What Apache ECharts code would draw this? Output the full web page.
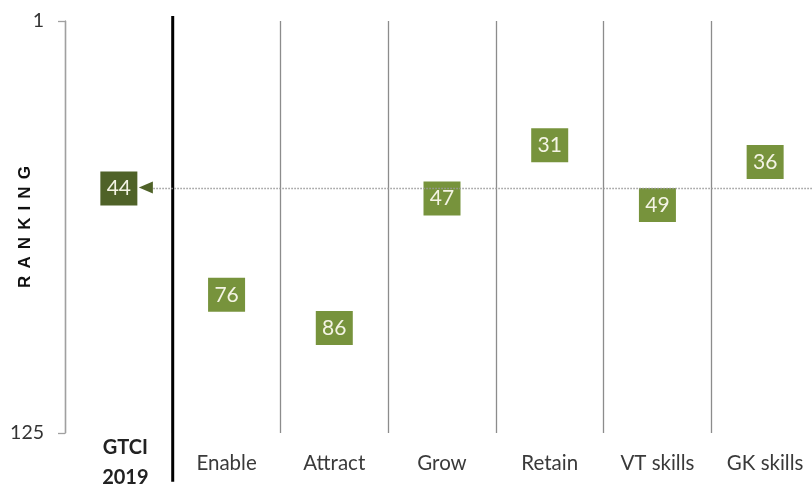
<!DOCTYPE html>
<html>
<head>
<meta charset="utf-8">
<script src="https://cdn.jsdelivr.net/npm/echarts@6/dist/echarts.min.js"></script>
<style>
html,body{margin:0;padding:0;background:#fff;}
#chart{width:812px;height:487px;}
</style>
</head>
<body>
<div id="chart"></div>
<script>
const categories = ['GTCI 2019', 'Enable', 'Attract', 'Grow', 'Retain', 'VT skills', 'GK skills'];
const rankings = [44, 76, 86, 47, 31, 49, 36];
const gtciRank = 44;
const yTickLabels = [1, 125];
const yAxisTitle = 'RANKING';

const FONT = 'Lato';
const chart = echarts.init(document.getElementById('chart'), null, {renderer: 'canvas'});

const boxData = rankings.map((v, i) => ({
  value: v,
  itemStyle: {color: i === 0 ? '#4F6228' : '#77933C', opacity: 1}
}));

const option = {
  backgroundColor: '#ffffff',
  animation: false,
  grid: {left: 65, right: -7, top: 21, bottom: 54, containLabel: false, outerBoundsMode: 'none'},
  xAxis: [{
    type: 'category',
    data: categories,
    boundaryGap: true,
    axisLine: {show: false},
    axisTick: {show: false},
    splitLine: {show: true, lineStyle: {color: '#8c8c8c', width: 1.3}},
    axisLabel: {
      margin: 30,
      verticalAlign: 'middle',
      fontFamily: FONT,
      fontSize: 20.5,
      color: '#3a3a3a',
      formatter: (v, i) => i === 0 ? v.split(' ').map(s => '{b|' + s + '}').join('\n') : v,
      rich: {b: {fontWeight: 'bold', fontFamily: FONT, fontSize: 20, color: '#222', lineHeight: 30, padding: [0, 0, 0, 13]}}
    }
  }, {
    type: 'value', min: 0, max: 7, show: false
  }],
  yAxis: [{
    type: 'value',
    min: 1, max: 125,
    inverse: true,
    name: yAxisTitle.split('').join('\u2004\u200A'),
    nameLocation: 'middle',
    nameRotate: 90,
    nameGap: 31,
    nameMoveOverlap: false,
    nameTextStyle: {fontFamily: 'Liberation Sans', fontWeight: 'bold', fontSize: 17, color: '#111'},
    axisLine: {show: true, lineStyle: {color: '#a0a0a0', width: 1.3}},
    axisTick: {show: true, length: 7, customValues: yTickLabels, lineStyle: {color: '#a0a0a0', width: 1.3}},
    axisLabel: {customValues: yTickLabels, margin: 21, fontFamily: FONT, fontSize: 19.5, color: '#333'},
    splitLine: {show: false}
  }, {
    type: 'value', min: -6.4, max: 117.6, inverse: true, show: false
  }],
  series: [
    {
      type: 'line', xAxisIndex: 1, yAxisIndex: 0, clip: false, silent: true,
      symbol: 'none', data: [[1, -0.5], [1, 139.7]],
      lineStyle: {color: '#000', width: 3}
    },
    {
      type: 'line', xAxisIndex: 1, yAxisIndex: 1, clip: false, silent: true,
      symbol: 'none', data: [[0.82, gtciRank], [7, gtciRank]],
      lineStyle: {color: '#9a9a9a', width: 1.5, type: [1.5, 1.5]}
    },
    {
      type: 'scatter', xAxisIndex: 0, yAxisIndex: 1, silent: true,
      symbol: 'triangle', symbolRotate: 90, symbolSize: [12, 14], symbolOffset: [27, -1],
      data: [gtciRank, null, null, null, null, null, null],
      itemStyle: {color: '#4F6228', opacity: 1}
    },
    {
      type: 'scatter', xAxisIndex: 0, yAxisIndex: 1, silent: true,
      symbol: 'rect', symbolSize: [37, 34],
      data: boxData,
      label: {
        show: true, position: 'inside',
        formatter: p => String(p.value),
        fontFamily: FONT, fontSize: 21, color: '#f4f4e4'
      }
    }
  ]
};
chart.setOption(option);
</script>
</body>
</html>
